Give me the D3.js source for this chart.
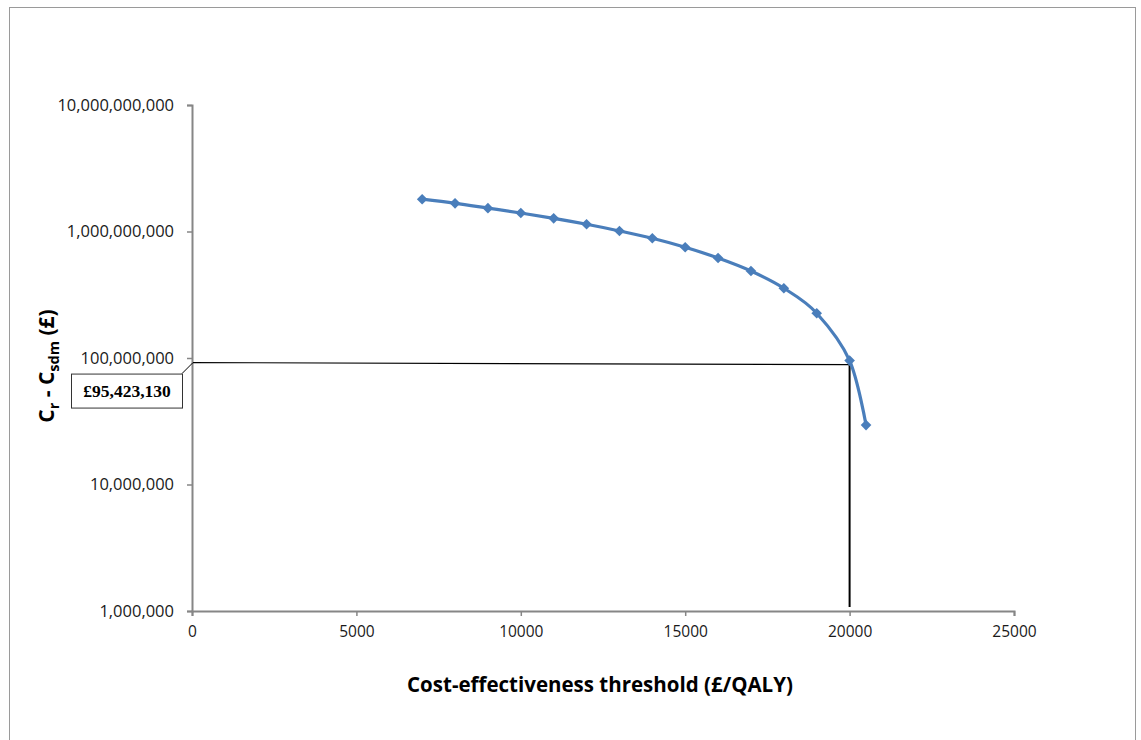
<!DOCTYPE html>
<html>
<head>
<meta charset="utf-8">
<script src="https://cdn.jsdelivr.net/npm/d3@7"></script>
<style>
  body { margin: 0; background: #fff; }
  text { font-family: "Open Sans", Lato, sans-serif; }
</style>
</head>
<body>
<div id="plot"></div>
<script>
// threshold (£/QALY) and C_r - C_sdm (£)
var thresholds = [7000, 8000, 9000, 10000, 11000, 12000, 13000, 14000, 15000, 16000, 17000, 18000, 19000, 20000, 20500];
var costDiff = [1.80e9, 1.67e9, 1.53e9, 1.40e9, 1.27e9, 1.14e9, 1.01e9, 8.84e8, 7.50e8, 6.17e8, 4.87e8, 3.56e8, 2.26e8, 95423130, 2.95e7];

var xTicks = [0, 5000, 10000, 15000, 20000, 25000];
var yTicks = [1e6, 1e7, 1e8, 1e9, 1e10];

// highlighted point
var markX = 20000;
var markY = 95423130;
var markLabel = "£95,423,130";

var width = 1141, height = 740;
var margin = {top: 105, right: 127, bottom: 129, left: 192};

var svg = d3.select("#plot")
    .append("svg")
    .attr("width", width)
    .attr("height", height);

// outer chart border
svg.append("rect")
    .attr("x", 9.5).attr("y", 7.5)
    .attr("width", 1126).attr("height", 745)
    .attr("fill", "none")
    .attr("stroke", "#9a9a9a")
    .attr("stroke-width", 1);

var x = d3.scaleLinear()
    .domain([0, 25000])
    .range([margin.left, width - margin.right]);

var y = d3.scaleLog()
    .domain([1e6, 1e10])
    .range([height - margin.bottom, margin.top]);

var fmt = d3.format(",");

// X axis
var gx = svg.append("g")
    .attr("transform", "translate(0," + y(1e6) + ")")
    .call(d3.axisBottom(x).tickValues(xTicks).tickSize(5).tickPadding(10).tickFormat(d3.format("d")));
gx.select(".domain").attr("stroke", "#868686").attr("stroke-width", 2);
gx.selectAll(".tick line").attr("stroke", "#868686").attr("stroke-width", 1.5);
gx.selectAll(".tick text").attr("font-size", 15.5).attr("fill", "#1a1a1a")
    .style("font-family", "'Open Sans', sans-serif");

// Y axis
var gy = svg.append("g")
    .attr("transform", "translate(" + x(0) + ",0)")
    .call(d3.axisLeft(y).tickValues(yTicks).tickSize(5).tickPadding(13).tickFormat(fmt));
gy.select(".domain").attr("stroke", "#868686").attr("stroke-width", 2);
gy.selectAll(".tick line").attr("stroke", "#868686").attr("stroke-width", 1.5);
gy.selectAll(".tick text").attr("font-size", 16.5).attr("fill", "#1a1a1a")
    .style("font-family", "'Open Sans', sans-serif");

// axis titles
svg.append("text")
    .attr("x", 600).attr("y", 692)
    .attr("text-anchor", "middle")
    .attr("font-size", 20.5).attr("font-weight", "bold")
    .text("Cost-effectiveness threshold (£/QALY)");

var yt = svg.append("text")
    .attr("transform", "translate(54,366) rotate(-90)")
    .attr("text-anchor", "middle")
    .attr("font-size", 21).attr("font-weight", "bold");
yt.append("tspan").text("C");
yt.append("tspan").attr("font-size", 14.5).attr("dy", 5).text("r");
yt.append("tspan").attr("dy", -5).text(" - C");
yt.append("tspan").attr("font-size", 14.5).attr("dy", 5).text("sdm");
yt.append("tspan").attr("dy", -5).text(" (£)");

// drop lines to the highlighted point
var px = x(markX), py = y(markY) + 3;
svg.append("line")
    .attr("x1", x(0) + 1).attr("y1", py - 1)
    .attr("x2", px).attr("y2", py + 1)
    .attr("stroke", "#000").attr("stroke-width", 1.2);
svg.append("line")
    .attr("x1", px).attr("y1", py)
    .attr("x2", px).attr("y2", y(1e6) - 4)
    .attr("stroke", "#000").attr("stroke-width", 2);

// the curve
var data = thresholds.map(function (t, i) { return {x: t, y: costDiff[i]}; });

var line = d3.line()
    .x(function (d) { return x(d.x); })
    .y(function (d) { return y(d.y); })
    .curve(d3.curveCatmullRom.alpha(0));

svg.append("path")
    .datum(data)
    .attr("d", line)
    .attr("fill", "none")
    .attr("stroke", "#4a7ebb")
    .attr("stroke-width", 3.2);

svg.append("g")
    .selectAll("path")
    .data(data)
    .enter()
    .append("path")
    .attr("d", d3.symbol().type(d3.symbolDiamond2).size(72))
    .attr("transform", function (d) { return "translate(" + x(d.x) + "," + y(d.y) + ")"; })
    .attr("fill", "#4a7ebb");

// label box with leader
var boxW = 111, boxH = 34;
var bx = x(0) - 10 - boxW, by = py + 10;
svg.append("line")
    .attr("x1", bx + boxW).attr("y1", by)
    .attr("x2", x(0) + 1).attr("y2", py - 1)
    .attr("stroke", "#000").attr("stroke-width", 1);
svg.append("rect")
    .attr("x", bx + 0.5).attr("y", by + 0.5)
    .attr("width", boxW).attr("height", boxH)
    .attr("fill", "#fff")
    .attr("stroke", "#333").attr("stroke-width", 1);
svg.append("text")
    .attr("x", bx + boxW / 2 + 0.5).attr("y", by + boxH / 2 + 6)
    .attr("text-anchor", "middle")
    .attr("font-size", 17.5).attr("font-weight", "bold")
    .style("font-family", "'Liberation Serif', 'Times New Roman', serif")
    .text(markLabel);
</script>
</body>
</html>
